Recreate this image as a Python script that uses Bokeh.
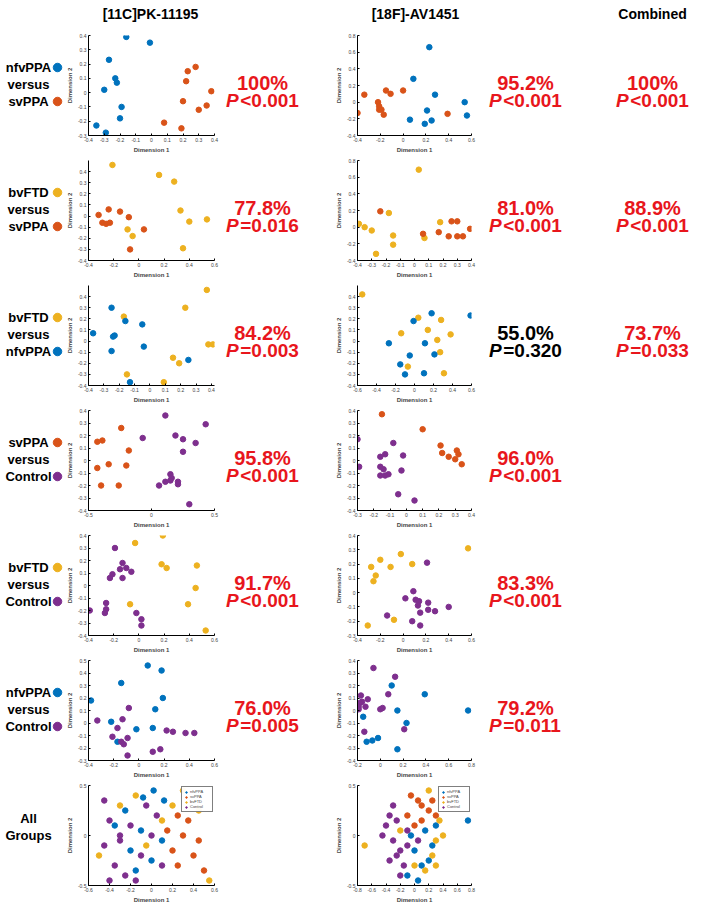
from bokeh.plotting import figure
from bokeh.layouts import row, column
from bokeh.models import Range1d, FixedTicker, CustomJSTickFormatter
from bokeh.embed import file_html
from bokeh.resources import INLINE
from bokeh.core.properties import value

# ---------------- colours ----------------
BLUE, ORANGE, YELLOW, PURPLE = "#0072BD", "#D95319", "#EDB120", "#7E2F8E"
RED = "#E8161C"
FONT = "Liberation Sans"

# ---------------- column headers ----------------
headers = ["[11C]PK-11195", "[18F]-AV1451", "Combined"]

# ---------------- row labels ----------------
row_groups = [("nfvPPA", "svPPA"), ("bvFTD", "svPPA"), ("bvFTD", "nfvPPA"),
              ("svPPA", "Control"), ("bvFTD", "Control"), ("nfvPPA", "Control")]
group_colors = {"nfvPPA": BLUE, "svPPA": ORANGE, "bvFTD": YELLOW, "Control": PURPLE}

# ---------------- accuracies ----------------
pk_acc = ["100%", "77.8%", "84.2%", "95.8%", "91.7%", "76.0%"]
pk_p = ["<0.001", "=0.016", "=0.003", "<0.001", "<0.001", "=0.005"]
pk_sig = [True, True, True, True, True, True]
av_acc = ["95.2%", "81.0%", "55.0%", "96.0%", "83.3%", "79.2%"]
av_p = ["<0.001", "<0.001", "=0.320", "<0.001", "<0.001", "=0.011"]
av_sig = [True, True, False, True, True, True]
comb_acc = ["100%", "88.9%", "73.7%"]
comb_p = ["<0.001", "<0.001", "=0.033"]
comb_sig = [True, True, True]

# ---------------- row 1: nfvPPA vs svPPA ----------------
pk1_nfv_x = [-0.16, -0.01, -0.27, -0.23, -0.22, -0.30, -0.19, -0.20, -0.35, -0.29]
pk1_nfv_y = [0.39, 0.35, 0.23, 0.10, 0.07, 0.02, -0.10, -0.18, -0.23, -0.28]
pk1_sv_x = [0.23, 0.28, 0.22, 0.38, 0.20, 0.35, 0.30, 0.08, 0.19]
pk1_sv_y = [0.15, 0.18, 0.08, 0.01, -0.06, -0.09, -0.12, -0.21, -0.25]
av1_nfv_x = [0.23, 0.09, 0.28, 0.54, 0.21, 0.56, 0.06, 0.25, 0.19]
av1_nfv_y = [0.66, 0.28, 0.09, 0.00, -0.10, -0.16, -0.21, -0.22, -0.26]
av1_sv_x = [-0.34, -0.15, -0.11, 0.00, -0.22, -0.21, -0.21, -0.19, -0.17, -0.40, 0.39]
av1_sv_y = [0.09, 0.14, 0.10, 0.14, 0.00, -0.05, -0.09, -0.09, -0.15, -0.13, -0.14]

# ---------------- row 2: bvFTD vs svPPA ----------------
pk2_bv_x = [-0.21, 0.16, 0.28, 0.33, 0.40, 0.54, -0.09, -0.05, 0.35]
pk2_bv_y = [0.46, 0.37, 0.31, 0.05, -0.05, -0.03, -0.12, -0.18, -0.29]
pk2_sv_x = [-0.32, -0.24, -0.15, -0.29, -0.26, -0.23, -0.08, 0.04, -0.07]
pk2_sv_y = [0.01, 0.06, 0.04, -0.06, -0.07, -0.06, -0.01, -0.12, -0.30]
av2_bv_x = [-0.39, -0.35, -0.30, -0.27, -0.18, -0.15, -0.15, 0.03, 0.07, 0.18]
av2_bv_y = [0.04, 0.00, -0.04, -0.32, 0.17, -0.10, -0.21, 0.69, -0.13, 0.06]
av2_sv_x = [-0.24, 0.06, 0.17, 0.24, 0.26, 0.30, 0.30, 0.34, 0.39]
av2_sv_y = [0.19, -0.08, -0.06, -0.11, 0.07, 0.07, -0.11, -0.11, -0.02]

# ---------------- row 3: bvFTD vs nfvPPA ----------------
pk3_bv_x = [-0.17, 0.23, 0.37, 0.38, 0.41, 0.15, 0.19, -0.15, 0.09]
pk3_bv_y = [0.22, 0.30, 0.46, -0.03, -0.03, -0.15, -0.20, -0.30, -0.37]
pk3_nfv_x = [-0.37, -0.25, -0.16, -0.05, -0.24, -0.23, -0.04, -0.25, 0.25, -0.13]
pk3_nfv_y = [0.07, 0.30, 0.18, 0.15, 0.04, 0.05, -0.05, -0.09, -0.17, -0.37]
av3_bv_x = [-0.55, -0.14, 0.04, 0.14, 0.28, 0.24, 0.38, 0.27, -0.07, 0.31]
av3_bv_y = [0.42, 0.07, 0.21, 0.10, 0.19, 0.01, 0.06, -0.10, -0.23, -0.29]
av3_nfv_x = [0.18, -0.01, -0.27, 0.11, -0.05, 0.21, -0.15, -0.10, 0.10, 0.59]
av3_nfv_y = [0.25, 0.18, -0.02, -0.02, -0.13, -0.12, -0.21, -0.30, -0.29, 0.23]

# ---------------- row 4: svPPA vs Control ----------------
pk4_sv_x = [-0.43, -0.39, -0.24, -0.18, -0.43, -0.34, -0.20, -0.40, -0.26]
pk4_sv_y = [0.15, 0.16, 0.26, 0.08, -0.06, -0.03, -0.04, -0.20, -0.20]
pk4_ctl_x = [-0.07, 0.11, 0.19, 0.25, 0.43, 0.35, 0.25, 0.15, 0.16, 0.15, 0.11, 0.06, 0.21, 0.21, 0.30]
pk4_ctl_y = [0.18, 0.36, 0.20, 0.17, 0.29, 0.14, 0.07, -0.11, -0.14, -0.16, -0.17, -0.20, -0.17, -0.19, -0.35]
av4_sv_x = [-0.15, 0.10, 0.21, 0.22, 0.26, 0.31, 0.32, 0.30, 0.34]
av4_sv_y = [0.37, 0.25, 0.12, 0.06, 0.03, 0.08, 0.05, 0.01, -0.03]
av4_ctl_x = [-0.30, -0.29, -0.08, -0.13, -0.16, -0.02, -0.16, -0.14, -0.11, -0.13, -0.16, -0.03, -0.05, 0.05]
av4_ctl_y = [0.17, -0.05, 0.14, 0.05, 0.03, 0.04, -0.05, -0.07, -0.11, -0.12, -0.12, -0.08, -0.27, -0.32]

# ---------------- row 5: bvFTD vs Control ----------------
pk5_bv_x = [-0.03, 0.19, 0.18, 0.22, 0.46, 0.45, 0.39, -0.07, 0.53]
pk5_bv_y = [0.34, 0.40, 0.17, 0.14, 0.16, -0.02, -0.15, -0.15, -0.36]
pk5_ctl_x = [-0.19, -0.13, -0.15, -0.10, -0.06, -0.21, -0.23, -0.13, -0.39, -0.26, -0.26, -0.27, -0.02, 0.02, 0.02]
pk5_ctl_y = [0.30, 0.18, 0.13, 0.14, 0.11, 0.09, 0.06, 0.06, -0.20, -0.14, -0.19, -0.22, -0.22, -0.27, -0.32]
av5_bv_x = [-0.28, -0.20, -0.24, -0.26, -0.11, -0.02, 0.08, -0.08, -0.31, 0.57]
av5_bv_y = [0.18, 0.23, 0.12, 0.08, 0.18, 0.27, 0.20, -0.19, -0.23, 0.31]
av5_ctl_x = [0.21, 0.09, 0.02, 0.11, 0.14, 0.22, 0.13, 0.22, 0.28, 0.40, 0.15, -0.14, 0.08, 0.15]
av5_ctl_y = [0.21, 0.01, -0.04, -0.05, -0.06, -0.07, -0.09, -0.12, -0.13, -0.10, -0.14, -0.16, -0.20, -0.23]

# ---------------- row 6: nfvPPA vs Control ----------------
pk6_nfv_x = [-0.38, -0.14, 0.07, 0.18, 0.19, 0.13, -0.22, -0.02, 0.11, -0.17]
pk6_nfv_y = [0.18, 0.32, 0.46, 0.42, 0.20, 0.11, 0.01, -0.05, -0.04, -0.15]
pk6_ctl_x = [-0.33, -0.08, -0.13, -0.17, -0.21, -0.14, -0.12, -0.09, -0.09, 0.11, 0.17, 0.22, 0.27, 0.37, 0.44]
pk6_ctl_y = [0.02, 0.12, 0.03, -0.04, -0.11, -0.15, -0.17, -0.12, -0.26, -0.23, -0.21, -0.06, -0.07, -0.08, -0.08]
av6_nfv_x = [0.10, 0.39, 0.15, -0.15, 0.23, -0.12, -0.07, -0.02, 0.15, 0.77]
av6_nfv_y = [0.20, 0.13, 0.00, -0.05, -0.10, -0.25, -0.24, -0.22, -0.31, 0.00]
av6_ctl_x = [-0.06, 0.13, 0.07, -0.17, -0.11, -0.16, -0.18, -0.19, -0.19, -0.13, 0.00, 0.02, -0.14, 0.21]
av6_ctl_y = [0.34, 0.27, 0.13, 0.12, 0.09, 0.07, 0.06, 0.03, 0.01, 0.03, 0.01, 0.02, -0.17, -0.15]

# ---------------- row 7: all groups ----------------
pk7_nfv_x = [0.02, -0.08, 0.12, -0.25, -0.35, -0.10, 0.10, -0.20, 0.00, -0.15]
pk7_nfv_y = [0.45, 0.38, 0.35, 0.25, 0.10, 0.05, -0.05, -0.15, -0.25, -0.35]
pk7_sv_x = [0.25, 0.35, 0.30, 0.45, 0.20, 0.40, 0.25, 0.50, 0.15]
pk7_sv_y = [0.20, 0.15, 0.00, -0.05, -0.15, -0.20, -0.30, -0.35, 0.05]
pk7_bv_x = [-0.15, 0.20, 0.30, -0.50, 0.55, -0.05, 0.10, -0.30, 0.45]
pk7_bv_y = [0.40, 0.30, 0.45, -0.20, -0.45, -0.10, 0.15, 0.30, 0.25]
pk7_ctl_x = [-0.40, -0.30, -0.45, -0.35, -0.20, -0.10, -0.25, 0.05, -0.45, -0.15, 0.00, -0.30, 0.10, -0.05, -0.40]
pk7_ctl_y = [0.15, -0.05, -0.10, -0.30, 0.10, -0.20, -0.40, 0.20, 0.35, -0.45, 0.00, 0.00, -0.30, 0.30, -0.45]
av7_nfv_x = [0.75, 0.30, 0.10, -0.10, 0.20, 0.00, 0.05, -0.05, 0.25, 0.15]
av7_nfv_y = [0.15, 0.10, -0.30, -0.40, -0.25, -0.15, -0.45, 0.00, -0.10, 0.05]
av7_sv_x = [-0.05, 0.05, 0.10, 0.20, -0.10, 0.10, 0.25, 0.00, 0.30]
av7_sv_y = [0.40, 0.35, 0.30, 0.25, 0.20, 0.15, 0.35, 0.10, 0.20]
av7_bv_x = [-0.70, 0.30, 0.35, 0.25, 0.00, 0.15, 0.40, 0.20, -0.20, 0.30]
av7_bv_y = [-0.10, -0.05, 0.15, -0.20, -0.30, -0.35, 0.00, 0.45, 0.05, -0.30]
av7_ctl_x = [-0.40, -0.30, -0.20, -0.35, -0.25, -0.15, -0.10, -0.30, -0.20, -0.45, -0.10, -0.25, 0.05, -0.35]
av7_ctl_y = [0.10, -0.05, -0.15, -0.25, 0.15, -0.30, -0.10, 0.30, -0.40, 0.00, 0.05, -0.20, -0.05, 0.20]

# ---------------- layout geometry ----------------
W_LAB, W_SL, W_PL, W_SR, W_PR, W_CB = 63, 159, 108, 149, 111, 128
ROW_H, BT, BB = 125, 5, 20
FRAME_H = ROW_H - BT - BB
HEAD_H = 30


def ticks(a, b, s):
    n = int(round((b - a) / s))
    return [round(a + i * s, 2) for i in range(n + 1)]


def text_fig(w, h, bt=0, bb=0):
    # y measured downward from the top of the plotting frame
    p = figure(width=w, height=h, x_range=Range1d(0, w), y_range=Range1d(h - bt - bb, 0),
               output_backend="svg", toolbar_location=None, title=None,
               x_axis_location=None, y_axis_location=None,
               min_border_left=0, min_border_right=0,
               min_border_top=bt, min_border_bottom=bb)
    p.grid.visible = False
    p.outline_line_color = None
    return p


def put_text(p, x, y, s, size, color="black", style="bold", align="center"):
    p.text(x=[x], y=[y], text=[s], text_font=value(FONT), text_font_size=size,
           text_font_style=style, text_color=color, text_align=align,
           text_baseline="middle")


def scatter_panel(width, left, series, xr, yr, xt, yt, legend=False):
    p = figure(width=width, height=ROW_H, x_range=Range1d(*xr), y_range=Range1d(*yr),
               output_backend="svg", toolbar_location=None, title=None,
               min_border_left=left, min_border_right=8,
               min_border_top=BT, min_border_bottom=BB)
    p.outline_line_color = None
    p.grid.visible = False
    for xs, ys, color, name in series:
        if legend:
            p.scatter(xs, ys, size=5.5, fill_color=color, line_color=color, legend_label=name)
        else:
            p.scatter(xs, ys, size=5.5, fill_color=color, line_color=color)
    p.xaxis.ticker = FixedTicker(ticks=xt)
    p.yaxis.ticker = FixedTicker(ticks=yt)
    fmt = CustomJSTickFormatter(code="return String(Math.round(tick*10)/10);")
    p.xaxis.formatter = fmt
    p.yaxis.formatter = fmt
    p.axis.major_tick_in = 2
    p.axis.major_tick_out = 0
    p.axis.minor_tick_line_color = None
    p.axis.axis_line_color = "black"
    p.axis.major_tick_line_color = "black"
    p.axis.major_label_text_font = FONT
    p.axis.major_label_text_font_size = "5px"
    p.axis.major_label_standoff = 2
    p.axis.axis_label_text_font = FONT
    p.axis.axis_label_text_font_size = "6px"
    p.axis.axis_label_text_font_style = "bold"
    p.axis.axis_label_standoff = 2
    p.xaxis.axis_label = "Dimension 1"
    p.yaxis.axis_label = "Dimension 2"
    if legend:
        lg = p.legend[0]
        lg.location = "top_right"
        lg.label_text_font = FONT
        lg.label_text_font_size = "4px"
        lg.glyph_width = 4
        lg.glyph_height = 4
        lg.label_height = 4
        lg.label_standoff = 2
        lg.spacing = 0
        lg.padding = 2
        lg.margin = 1
        lg.border_line_color = "black"
        lg.border_line_width = 0.5
    return p


def pct_fig(w, cx, acc, pval, sig):
    p = text_fig(w, ROW_H, BT, BB)
    if acc is None:
        return p
    col = RED if sig else "black"
    put_text(p, cx, 47, acc, "20px", col)
    wp = 0.667 * 19
    wr = 19 * (0.584 + 4 * 0.556 + 0.278)
    x0 = cx - (wp + 1.5 + wr) / 2.0
    put_text(p, x0, 65, "P", "19px", col, "bold italic", "left")
    put_text(p, x0 + wp + 1.5, 65, pval, "19px", col, "bold", "left")
    return p


def label_fig(groups):
    p = text_fig(W_LAB, ROW_H, BT, BB)
    if groups is None:
        put_text(p, 28, 33, "All", "13px")
        put_text(p, 28, 50, "Groups", "13px")
        return p
    g1, g2 = groups
    put_text(p, 28, 32, g1, "13px")
    put_text(p, 28, 49, "versus", "13px")
    put_text(p, 28, 66, g2, "13px")
    p.scatter([57], [32], size=8.5, fill_color=group_colors[g1], line_color=group_colors[g1])
    p.scatter([57], [66], size=8.5, fill_color=group_colors[g2], line_color=group_colors[g2])
    return p


# ---------------- panel specifications ----------------
pk_specs = [
    dict(series=[(pk1_nfv_x, pk1_nfv_y, BLUE, "nfvPPA"), (pk1_sv_x, pk1_sv_y, ORANGE, "svPPA")],
         xr=(-0.4, 0.4), yr=(-0.3, 0.4), xt=ticks(-0.4, 0.4, 0.1), yt=ticks(-0.3, 0.4, 0.1)),
    dict(series=[(pk2_bv_x, pk2_bv_y, YELLOW, "bvFTD"), (pk2_sv_x, pk2_sv_y, ORANGE, "svPPA")],
         xr=(-0.4, 0.6), yr=(-0.4, 0.5), xt=ticks(-0.4, 0.6, 0.2), yt=ticks(-0.4, 0.4, 0.1)),
    dict(series=[(pk3_bv_x, pk3_bv_y, YELLOW, "bvFTD"), (pk3_nfv_x, pk3_nfv_y, BLUE, "nfvPPA")],
         xr=(-0.4, 0.42), yr=(-0.4, 0.5), xt=ticks(-0.4, 0.4, 0.1), yt=ticks(-0.4, 0.4, 0.1)),
    dict(series=[(pk4_sv_x, pk4_sv_y, ORANGE, "svPPA"), (pk4_ctl_x, pk4_ctl_y, PURPLE, "Control")],
         xr=(-0.5, 0.5), yr=(-0.4, 0.4), xt=ticks(-0.5, 0.5, 0.5), yt=ticks(-0.4, 0.4, 0.1)),
    dict(series=[(pk5_bv_x, pk5_bv_y, YELLOW, "bvFTD"), (pk5_ctl_x, pk5_ctl_y, PURPLE, "Control")],
         xr=(-0.4, 0.6), yr=(-0.4, 0.4), xt=ticks(-0.4, 0.6, 0.2), yt=ticks(-0.4, 0.4, 0.1)),
    dict(series=[(pk6_nfv_x, pk6_nfv_y, BLUE, "nfvPPA"), (pk6_ctl_x, pk6_ctl_y, PURPLE, "Control")],
         xr=(-0.4, 0.6), yr=(-0.3, 0.5), xt=ticks(-0.4, 0.6, 0.2), yt=ticks(-0.3, 0.5, 0.1)),
    dict(series=[(pk7_nfv_x, pk7_nfv_y, BLUE, "nfvPPA"), (pk7_sv_x, pk7_sv_y, ORANGE, "svPPA"),
                 (pk7_bv_x, pk7_bv_y, YELLOW, "bvFTD"), (pk7_ctl_x, pk7_ctl_y, PURPLE, "Control")],
         xr=(-0.6, 0.6), yr=(-0.5, 0.5), xt=ticks(-0.6, 0.6, 0.2), yt=ticks(-0.5, 0.5, 0.5), legend=True),
]

av_specs = [
    dict(series=[(av1_nfv_x, av1_nfv_y, BLUE, "nfvPPA"), (av1_sv_x, av1_sv_y, ORANGE, "svPPA")],
         xr=(-0.4, 0.6), yr=(-0.4, 0.8), xt=ticks(-0.4, 0.6, 0.2), yt=ticks(-0.4, 0.8, 0.2)),
    dict(series=[(av2_bv_x, av2_bv_y, YELLOW, "bvFTD"), (av2_sv_x, av2_sv_y, ORANGE, "svPPA")],
         xr=(-0.4, 0.4), yr=(-0.4, 0.8), xt=ticks(-0.4, 0.4, 0.1), yt=ticks(-0.4, 0.8, 0.2)),
    dict(series=[(av3_bv_x, av3_bv_y, YELLOW, "bvFTD"), (av3_nfv_x, av3_nfv_y, BLUE, "nfvPPA")],
         xr=(-0.6, 0.6), yr=(-0.4, 0.5), xt=ticks(-0.6, 0.6, 0.2), yt=ticks(-0.4, 0.4, 0.1)),
    dict(series=[(av4_sv_x, av4_sv_y, ORANGE, "svPPA"), (av4_ctl_x, av4_ctl_y, PURPLE, "Control")],
         xr=(-0.3, 0.4), yr=(-0.4, 0.4), xt=ticks(-0.3, 0.4, 0.1), yt=ticks(-0.4, 0.4, 0.1)),
    dict(series=[(av5_bv_x, av5_bv_y, YELLOW, "bvFTD"), (av5_ctl_x, av5_ctl_y, PURPLE, "Control")],
         xr=(-0.4, 0.6), yr=(-0.3, 0.4), xt=ticks(-0.4, 0.6, 0.2), yt=ticks(-0.3, 0.4, 0.1)),
    dict(series=[(av6_nfv_x, av6_nfv_y, BLUE, "nfvPPA"), (av6_ctl_x, av6_ctl_y, PURPLE, "Control")],
         xr=(-0.2, 0.8), yr=(-0.4, 0.4), xt=ticks(-0.2, 0.8, 0.2), yt=ticks(-0.4, 0.4, 0.1)),
    dict(series=[(av7_nfv_x, av7_nfv_y, BLUE, "nfvPPA"), (av7_sv_x, av7_sv_y, ORANGE, "svPPA"),
                 (av7_bv_x, av7_bv_y, YELLOW, "bvFTD"), (av7_ctl_x, av7_ctl_y, PURPLE, "Control")],
         xr=(-0.8, 0.8), yr=(-0.5, 0.5), xt=ticks(-0.8, 0.8, 0.2), yt=ticks(-0.5, 0.5, 0.5), legend=True),
]

# ---------------- assemble ----------------
W_TOTAL = W_LAB + W_SL + W_PL + W_SR + W_PR + W_CB
header = text_fig(W_TOTAL, HEAD_H)
for hx, htxt in zip([150, 415, 652], headers):
    put_text(header, hx, 13, htxt, "14px")

rows = [header]
for i in range(7):
    lab = label_fig(row_groups[i] if i < 6 else None)
    sl = scatter_panel(W_SL, 25, **pk_specs[i])
    sr = scatter_panel(W_SR, 27, **av_specs[i])
    if i < 6:
        pl = pct_fig(W_PL, 40, pk_acc[i], pk_p[i], pk_sig[i])
        pr = pct_fig(W_PR, 46, av_acc[i], av_p[i], av_sig[i])
    else:
        pl = pct_fig(W_PL, 40, None, None, None)
        pr = pct_fig(W_PR, 46, None, None, None)
    if i < 3:
        cb = pct_fig(W_CB, 62, comb_acc[i], comb_p[i], comb_sig[i])
    else:
        cb = pct_fig(W_CB, 62, None, None, None)
    rows.append(row(lab, sl, pl, sr, pr, cb))

layout = column(*rows)
open("out.html", "w").write(file_html(layout, INLINE))
